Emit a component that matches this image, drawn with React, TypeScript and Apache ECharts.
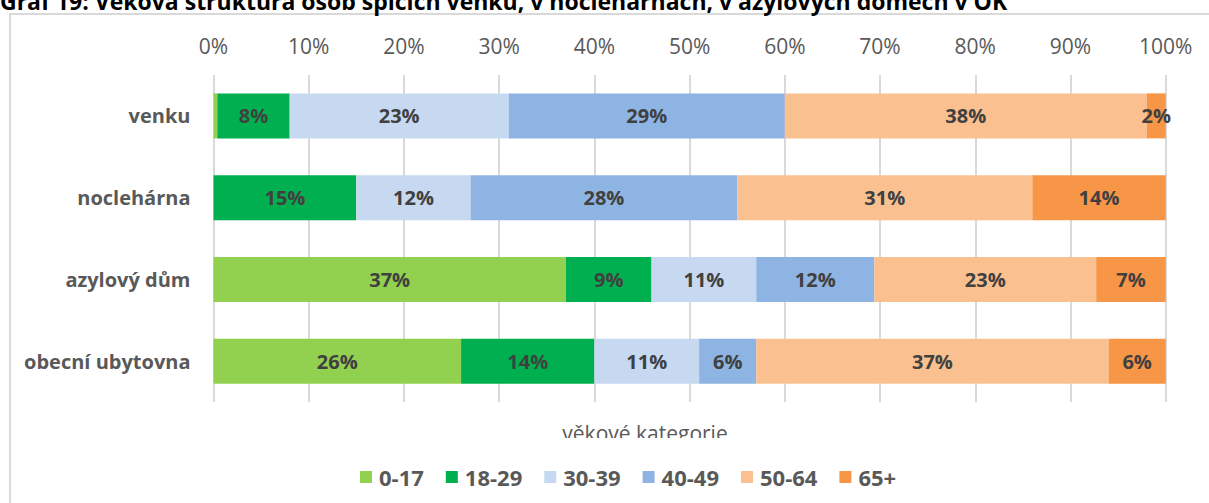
import React, { useEffect, useRef } from "react";
import * as echarts from "echarts";

const categories = ["venku", "noclehárna", "azylový dům", "obecní ubytovna"];
const seriesNames = ["0-17", "18-29", "30-39", "40-49", "50-64", "65+"];
const s0_17 = [0.4, 0, 37, 26];
const s18_29 = [7.6, 15, 9, 14];
const s30_39 = [23, 12, 11, 11];
const s40_49 = [29, 28, 12.4, 6];
const s50_64 = [38, 31, 23.3, 37];
const s65 = [2, 14, 7.3, 6];
const colors = ["#92D050", "#00B050", "#C6D9F1", "#8EB4E3", "#FAC090", "#F79646"];
const xTicks = [0, 10, 20, 30, 40, 50, 60, 70, 80, 90, 100];
const titleText = "Graf 19: Věková struktura osob spících venku, v noclehárnách, v azylových domech v OK";
const axisTitle = "věkové kategorie";

export default function App() {
  const ref = useRef<HTMLDivElement>(null);
  useEffect(() => {
    if (!ref.current) return;
    const chart = echarts.init(ref.current, undefined, { renderer: "svg" });
    const allData = [s0_17, s18_29, s30_39, s40_49, s50_64, s65];
    const font = "'Open Sans', sans-serif";
    chart.setOption({
      animation: false,
      textStyle: { fontFamily: font },
      grid: { left: 213.5, right: 43.3, top: 75, bottom: 101 },
      xAxis: {
        type: "value",
        position: "top",
        min: xTicks[0],
        max: xTicks[xTicks.length - 1],
        interval: 10,
        axisLine: { show: false },
        axisTick: { show: false },
        axisLabel: { color: "#595959", fontSize: 21, fontFamily: font, margin: 19, formatter: "{value}%" },
        splitLine: { lineStyle: { color: "#D9D9D9", width: 2 } },
      },
      yAxis: {
        type: "category",
        inverse: true,
        data: categories,
        axisLine: { show: false },
        axisTick: { show: false },
        axisLabel: { color: "#595959", fontSize: 20, fontWeight: "bold", fontFamily: font, margin: 23 },
      },
      legend: {
        left: 355,
        top: 461,
        itemWidth: 12,
        itemHeight: 12,
        itemGap: 22,
        icon: "rect",
        textStyle: { color: "#595959", fontSize: 22, fontWeight: "bold", fontFamily: font, padding: [0, 0, 0, 2] },
        data: seriesNames,
      },
      graphic: [
        {
          type: "rect",
          z: -10,
          shape: { x: 10, y: 14, width: 1400, height: 700 },
          style: { fill: "none", stroke: "#D9D9D9", lineWidth: 2 },
        },
        {
          type: "text",
          x: 0,
          y: 12,
          style: {
            text: titleText,
            fontSize: 23,
            fontWeight: "bold",
            fontFamily: font,
            fill: "#000000",
            verticalAlign: "bottom",
          },
        },
        {
          type: "text",
          x: 645,
          y: 433,
          z: 1,
          style: {
            text: axisTitle,
            fontSize: 21,
            fontFamily: font,
            fill: "#595959",
            align: "center",
            verticalAlign: "middle",
          },
        },
        {
          type: "rect",
          z: 2,
          shape: { x: 500, y: 438, width: 300, height: 20 },
          style: { fill: "#FFFFFF" },
        },
      ],
      series: seriesNames.map((name, i) => ({
        name,
        type: "bar",
        stack: "total",
        barWidth: 45,
        itemStyle: { color: colors[i] },
        label: {
          show: true,
          position: "inside",
          color: "#404040",
          fontSize: 20,
          fontWeight: "bold",
          fontFamily: font,
          formatter: (p: any) => (p.value >= 1 ? Math.round(p.value) + "%" : ""),
        },
        data: allData[i],
      })),
    });
    return () => chart.dispose();
  }, []);
  return <div ref={ref} style={{ position: "absolute", left: 0, top: 0, width: 1209, height: 503 }} />;
}
